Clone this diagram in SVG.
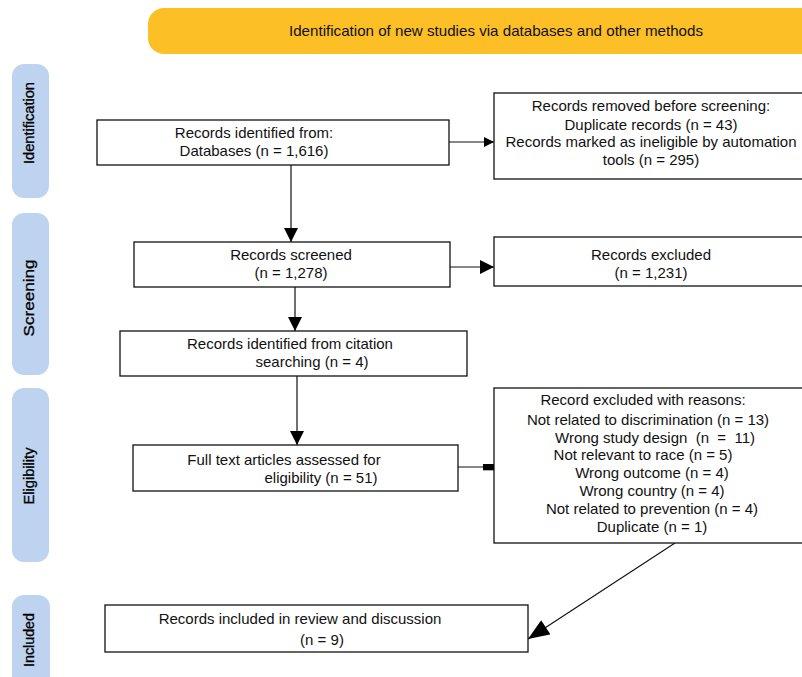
<svg xmlns="http://www.w3.org/2000/svg" width="802" height="677" viewBox="0 0 802 677">
<defs>
<style>
.t{font-family:"Liberation Sans",Arial,sans-serif;font-size:15px;fill:#111;text-anchor:middle}
.box{fill:#fff;stroke:#111;stroke-width:1.3}
.side{fill:#bdd3ef}
.st{font-family:"Liberation Sans",Arial,sans-serif;font-size:14px;fill:#000;text-anchor:middle;stroke:#000;stroke-width:0.3}
.c{stroke:#111;stroke-width:1.2;fill:none}
</style>
<marker id="ah" viewBox="0 0 10 10" refX="10" refY="5" markerWidth="10" markerHeight="10" markerUnits="userSpaceOnUse" orient="auto">
<path d="M0,0 L10,5 L0,10 z" fill="#000"/>
</marker>
<marker id="ahv" viewBox="0 0 10 10" refX="10" refY="5" markerWidth="14" markerHeight="14" markerUnits="userSpaceOnUse" orient="auto">
<path d="M0,0 L10,5 L0,10 z" fill="#000"/>
</marker>
<marker id="big" viewBox="0 0 20 16" refX="20" refY="8" markerWidth="22" markerHeight="17" markerUnits="userSpaceOnUse" orient="auto">
<path d="M0,0 L20,8 L0,16 z" fill="#000"/>
</marker>
<marker id="sq" viewBox="0 0 10 6" refX="10" refY="3" markerWidth="11" markerHeight="7" markerUnits="userSpaceOnUse" orient="auto">
<rect x="0" y="0" width="10" height="6" fill="#000"/>
</marker>
</defs>
<rect width="802" height="677" fill="#fff"/>

<g id="banner">
<rect x="148" y="8" width="680" height="46" rx="16" fill="#fdbf26"/>
<text class="t" x="496" y="36" textLength="414" lengthAdjust="spacingAndGlyphs">Identification of new studies via databases and other methods</text>
</g>

<g id="phase-identification">
<rect class="side" x="12" y="64" width="37" height="134" rx="12"/>
<text class="st" transform="translate(34,123) rotate(-90)" textLength="82" lengthAdjust="spacingAndGlyphs">Identification</text>
</g>
<g id="phase-screening">
<rect class="side" x="12" y="213" width="37" height="162" rx="12"/>
<text class="st" transform="translate(34,298) rotate(-90)" textLength="77" lengthAdjust="spacingAndGlyphs">Screening</text>
</g>
<g id="phase-eligibility">
<rect class="side" x="12" y="388" width="37" height="174" rx="12"/>
<text class="st" transform="translate(34,476) rotate(-90)" textLength="57" lengthAdjust="spacingAndGlyphs">Eligibility</text>
</g>
<g id="phase-included">
<rect class="side" x="12" y="595" width="38" height="100" rx="12"/>
<text class="st" transform="translate(34,640) rotate(-90)" textLength="54" lengthAdjust="spacingAndGlyphs">Included</text>
</g>

<g id="connectors">
<line class="c" x1="449" y1="142" x2="494" y2="142" marker-end="url(#ah)"/>
<line class="c" x1="291" y1="165" x2="291" y2="242" marker-end="url(#ahv)"/>
<line class="c" x1="450" y1="267" x2="494" y2="267" marker-end="url(#ahv)"/>
<line class="c" x1="295" y1="287" x2="295" y2="331" marker-end="url(#ahv)"/>
<line class="c" x1="297" y1="376" x2="297" y2="445" marker-end="url(#ahv)"/>
<line class="c" x1="458" y1="467" x2="494" y2="467" marker-end="url(#sq)"/>
<line class="c" x1="675" y1="543" x2="528" y2="639" marker-end="url(#big)"/>
</g>

<g id="n-identified">
<rect class="box" x="97" y="120" width="352" height="45"/>
<text class="t" x="254" y="138">Records identified from:</text>
<text class="t" x="254" y="156">Databases (n = 1,616)</text>
</g>

<g id="n-removed">
<rect class="box" x="494" y="93" width="330" height="86"/>
<text class="t" x="651" y="111">Records removed before screening:</text>
<text class="t" x="651" y="130">Duplicate records (n = 43)</text>
<text class="t" x="651" y="147">Records marked as ineligible by automation</text>
<text class="t" x="651" y="165">tools (n = 295)</text>
</g>

<g id="n-screened">
<rect class="box" x="134" y="242" width="316" height="45"/>
<text class="t" x="291" y="260">Records screened</text>
<text class="t" x="291" y="278">(n = 1,278)</text>
</g>

<g id="n-excluded">
<rect class="box" x="494" y="237" width="330" height="49"/>
<text class="t" x="651" y="260">Records excluded</text>
<text class="t" x="651" y="278">(n = 1,231)</text>
</g>

<g id="n-citation">
<rect class="box" x="120" y="331" width="347" height="45"/>
<text class="t" x="290" y="349">Records identified from citation</text>
<text class="t" x="312" y="367">searching (n = 4)</text>
</g>

<g id="n-fulltext">
<rect class="box" x="133" y="445" width="325" height="46"/>
<text class="t" x="284" y="465">Full text articles assessed for</text>
<text class="t" x="321" y="483">eligibility (n = 51)</text>
</g>

<g id="n-reasons">
<rect class="box" x="494" y="388" width="330" height="155"/>
<text class="t" x="643" y="405">Record excluded with reasons:</text>
<text class="t" x="648" y="425">Not related to discrimination (n = 13)</text>
<text class="t" x="655" y="443" xml:space="preserve">Wrong study design  (n  =  11)</text>
<text class="t" x="643" y="460">Not relevant to race (n = 5)</text>
<text class="t" x="652" y="478">Wrong outcome (n = 4)</text>
<text class="t" x="652" y="496">Wrong country (n = 4)</text>
<text class="t" x="652" y="514">Not related to prevention (n = 4)</text>
<text class="t" x="652" y="532">Duplicate (n = 1)</text>
</g>

<g id="n-included">
<rect class="box" x="105" y="605" width="423" height="47"/>
<text class="t" x="300" y="624">Records included in review and discussion</text>
<text class="t" x="322" y="645">(n = 9)</text>
</g>
</svg>
